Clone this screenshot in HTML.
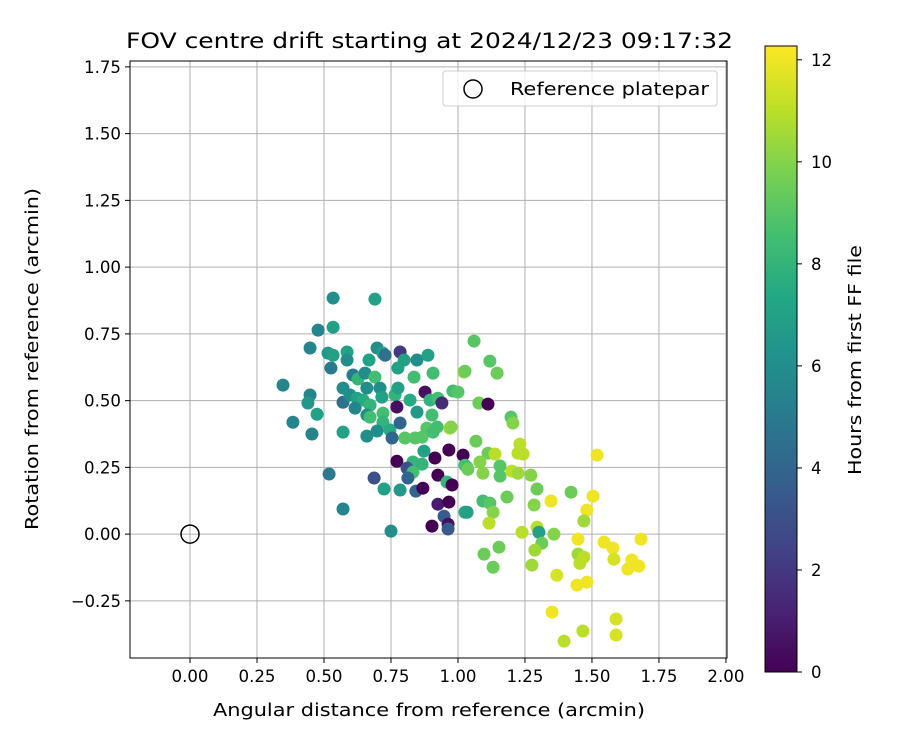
<!DOCTYPE html>
<html><head><meta charset="utf-8"><style>
html,body{margin:0;padding:0;background:#fff;}
svg{display:block;font-family:"DejaVu Sans","Liberation Sans",sans-serif;}
</style></head><body>
<svg id="chart" width="900" height="750" viewBox="0 0 900 750" xmlns="http://www.w3.org/2000/svg">
<defs><linearGradient id="vir" x1="0" y1="1" x2="0" y2="0">
<stop offset="0" stop-color="#440154"/><stop offset="0.1" stop-color="#482475"/><stop offset="0.2" stop-color="#414487"/><stop offset="0.3" stop-color="#355f8d"/><stop offset="0.4" stop-color="#2a788e"/><stop offset="0.5" stop-color="#21918c"/><stop offset="0.6" stop-color="#22a884"/><stop offset="0.7" stop-color="#44bf70"/><stop offset="0.8" stop-color="#7ad151"/><stop offset="0.9" stop-color="#bddf26"/><stop offset="1" stop-color="#fde725"/>
</linearGradient></defs>
<text x="126" y="48" font-size="21" textLength="607" lengthAdjust="spacingAndGlyphs">FOV centre drift starting at 2024/12/23 09:17:32</text>
<g id="grid"></g>
<g id="ticks"></g>
<g id="points"></g>
<rect x="130" y="61" width="597" height="597" fill="none" stroke="#000" stroke-width="1"/>
<text x="213" y="716" font-size="18" textLength="432" lengthAdjust="spacingAndGlyphs">Angular distance from reference (arcmin)</text>
<text transform="translate(38,530) rotate(-90)" font-size="18" textLength="342" lengthAdjust="spacingAndGlyphs">Rotation from reference (arcmin)</text>
<g>
<rect x="443" y="71" width="274" height="35" rx="3" fill="#fff" fill-opacity="0.8" stroke="#ccc"/>
<circle cx="473" cy="89" r="9" fill="none" stroke="#000" stroke-width="1.5"/>
<text x="510" y="95" font-size="18" textLength="199" lengthAdjust="spacingAndGlyphs">Reference platepar</text>
</g>
<g>
<rect x="765" y="46" width="32" height="626" fill="url(#vir)" stroke="#000" stroke-width="1"/>
<g id="cbticks"></g>
<text transform="translate(861,475) rotate(-90)" font-size="18" textLength="230" lengthAdjust="spacingAndGlyphs">Hours from first FF file</text>
</g>
</svg>
<script>
const xTicks=[0,0.25,0.5,0.75,1.0,1.25,1.5,1.75,2.0];
const yTicks=[-0.25,0,0.25,0.5,0.75,1.0,1.25,1.5,1.75];
const cbTicks=[0,2,4,6,8,10,12];
const xs=[0.534,0.690,0.478,0.534,0.448,0.515,0.534,0.586,0.586,0.526,0.698,0.720,0.728,0.784,0.799,0.776,0.847,0.888,0.668,0.608,0.627,0.653,0.690,0.836,0.907,1.022,0.347,0.448,0.440,0.474,0.384,0.455,0.571,0.571,0.597,0.623,0.660,0.646,0.672,0.709,0.716,0.765,0.776,0.772,0.616,0.660,0.672,0.720,0.720,0.698,0.746,0.754,0.784,0.571,0.660,0.821,0.877,0.896,0.925,0.940,0.847,0.903,0.981,1.000,0.802,0.840,0.866,0.884,0.907,0.922,0.970,0.873,0.772,0.832,0.866,0.810,0.914,0.966,1.019,1.034,0.832,0.813,0.925,0.959,0.978,0.519,0.687,0.724,0.784,0.843,0.869,0.925,0.966,1.026,0.948,0.903,0.963,0.963,0.571,0.750,1.060,1.119,1.026,1.146,1.078,1.112,1.198,1.205,0.974,1.067,1.231,1.224,1.243,1.112,1.138,1.519,1.026,1.037,1.082,1.093,1.157,1.157,1.201,1.224,1.272,1.295,1.422,1.347,1.504,1.481,1.470,1.183,1.284,1.093,1.119,1.131,1.034,1.116,1.295,1.302,1.239,1.358,1.313,1.287,1.448,1.545,1.578,1.683,1.153,1.097,1.131,1.276,1.448,1.470,1.455,1.582,1.649,1.634,1.675,1.369,1.444,1.481,1.351,1.590,1.466,1.590,1.396];
const ys=[0.884,0.880,0.764,0.775,0.697,0.678,0.670,0.682,0.652,0.622,0.697,0.678,0.670,0.682,0.652,0.622,0.652,0.670,0.652,0.596,0.581,0.603,0.588,0.588,0.603,0.607,0.558,0.521,0.491,0.449,0.419,0.375,0.547,0.494,0.521,0.509,0.547,0.502,0.483,0.547,0.513,0.521,0.547,0.476,0.472,0.446,0.438,0.453,0.419,0.386,0.390,0.360,0.416,0.382,0.367,0.502,0.532,0.502,0.509,0.491,0.457,0.446,0.536,0.532,0.360,0.360,0.363,0.397,0.382,0.401,0.397,0.311,0.273,0.270,0.262,0.247,0.285,0.315,0.296,0.251,0.232,0.210,0.221,0.195,0.184,0.225,0.210,0.169,0.165,0.161,0.172,0.112,0.120,0.082,0.067,0.030,0.037,0.019,0.094,0.011,0.723,0.648,0.610,0.603,0.491,0.487,0.438,0.416,0.401,0.348,0.337,0.303,0.300,0.303,0.300,0.296,0.258,0.243,0.270,0.228,0.255,0.217,0.236,0.228,0.221,0.169,0.157,0.124,0.142,0.090,0.049,0.139,0.109,0.124,0.116,0.082,0.082,0.041,0.026,0.007,0.007,0.000,-0.034,-0.060,-0.019,-0.030,-0.052,-0.019,-0.049,-0.075,-0.124,-0.116,-0.075,-0.086,-0.109,-0.094,-0.097,-0.131,-0.120,-0.154,-0.191,-0.180,-0.292,-0.318,-0.363,-0.378,-0.401];
const hours=[6,7,5.5,7,5.5,6.5,7,7,6,5,6,7,4.5,2,7,7,6,7,7,5,8,6,8.5,8.5,8.5,10.5,5.5,5.5,6.5,7,5.5,5.5,6,4.5,6,7,6,7.5,8,6,7,8,7,0.5,5.5,6,8.5,8.5,8,6,7.5,4,4,7,6,7.5,0.5,8,8.5,1.5,6.5,8.5,8.5,9,9,9,9,9,8.5,8.5,10.5,7,0,8,8,3,0,0,0,9.5,8.5,4,0,8,0,5,3,7,6.5,4,0,1,0,7.5,3.5,0,0.5,3.5,5.5,6,9,9,9.5,9.5,9.5,0,9,10,10,9.5,11,11,11,9.5,11,12,8.5,9.5,10,10,9,9,11,10.5,10,9.5,9.5,12,12,12,10.5,9.5,10,8.5,9,10,7,11,11,7,11,10,9.5,10.5,12,12,12,12,9.5,9.5,9.5,10.5,10.5,11,11,11.5,12,12,12,11.5,12,12,12,11.5,11,11.5,11];
const ref=[0,0];
const L=130,R=727,T=61,B=658,X0=-0.224,X1=2.004,Y0=-0.464,Y1=1.772,HMAX=12.27;
const sx=v=>L+(v-X0)/(X1-X0)*(R-L);
const sy=v=>B-(v-Y0)/(Y1-Y0)*(B-T);
const cy=h=>672-h/HMAX*626;
const NS="http://www.w3.org/2000/svg";
function mk(tag,attrs,parent,txt){const e=document.createElementNS(NS,tag);for(const k in attrs)e.setAttribute(k,attrs[k]);if(txt!==undefined)e.textContent=txt;parent.appendChild(e);return e;}
const stops=[[0,[68,1,84]],[0.1,[72,36,117]],[0.2,[65,68,135]],[0.3,[53,95,141]],[0.4,[42,120,142]],[0.5,[33,145,140]],[0.6,[34,168,132]],[0.7,[68,191,112]],[0.8,[122,209,81]],[0.9,[189,223,38]],[1,[253,231,37]]];
function viridis(t){t=Math.max(0,Math.min(1,t));for(let i=1;i<stops.length;i++){if(t<=stops[i][0]){const a=stops[i-1],b=stops[i],f=(t-a[0])/(b[0]-a[0]);return 'rgb('+a[1].map((c,j)=>Math.round(c+(b[1][j]-c)*f)).join(',')+')';}}return 'rgb(253,231,37)';}
const grid=document.getElementById('grid'),tk=document.getElementById('ticks'),pts=document.getElementById('points'),cb=document.getElementById('cbticks');
xTicks.forEach(v=>{const x=sx(v);
const g=mk('line',{x1:x,x2:x,y1:T,y2:B,stroke:'#b0b0b0','stroke-width':1},grid);


const t=mk('line',{x1:x,x2:x,y1:B,y2:B+5,stroke:'#000'},tk);


const l=mk('text',{x:x,y:B+24,'text-anchor':'middle','font-size':16.5,textLength:37,lengthAdjust:'spacingAndGlyphs'},tk,v.toFixed(2));

});
yTicks.forEach(v=>{const y=sy(v);
const g=mk('line',{x1:L,x2:R,y1:y,y2:y,stroke:'#b0b0b0','stroke-width':1},grid);


const t=mk('line',{x1:L-5,x2:L,y1:y,y2:y,stroke:'#000'},tk);


const s=(v<0?'\u2212'+Math.abs(v).toFixed(2):v.toFixed(2));
const l=mk('text',{x:L-9,y:y+6,'text-anchor':'end','font-size':16.5,textLength:(v<0?50:37),lengthAdjust:'spacingAndGlyphs'},tk,s);

});
xs.forEach((x,i)=>{const c=mk('circle',{cx:sx(x),cy:sy(ys[i]),r:6.5,fill:viridis(hours[i]/HMAX)},pts);

});
const rc=mk('circle',{cx:sx(ref[0]),cy:sy(ref[1]),r:9,fill:'none',stroke:'#000','stroke-width':1.5},pts);


cbTicks.forEach(h=>{const y=cy(h);
const t=mk('line',{x1:797,x2:802,y1:y,y2:y,stroke:'#000'},cb);


const l=mk('text',{x:811,y:y+6,'font-size':16.5},cb,String(h));

});
</script>
</body></html>
